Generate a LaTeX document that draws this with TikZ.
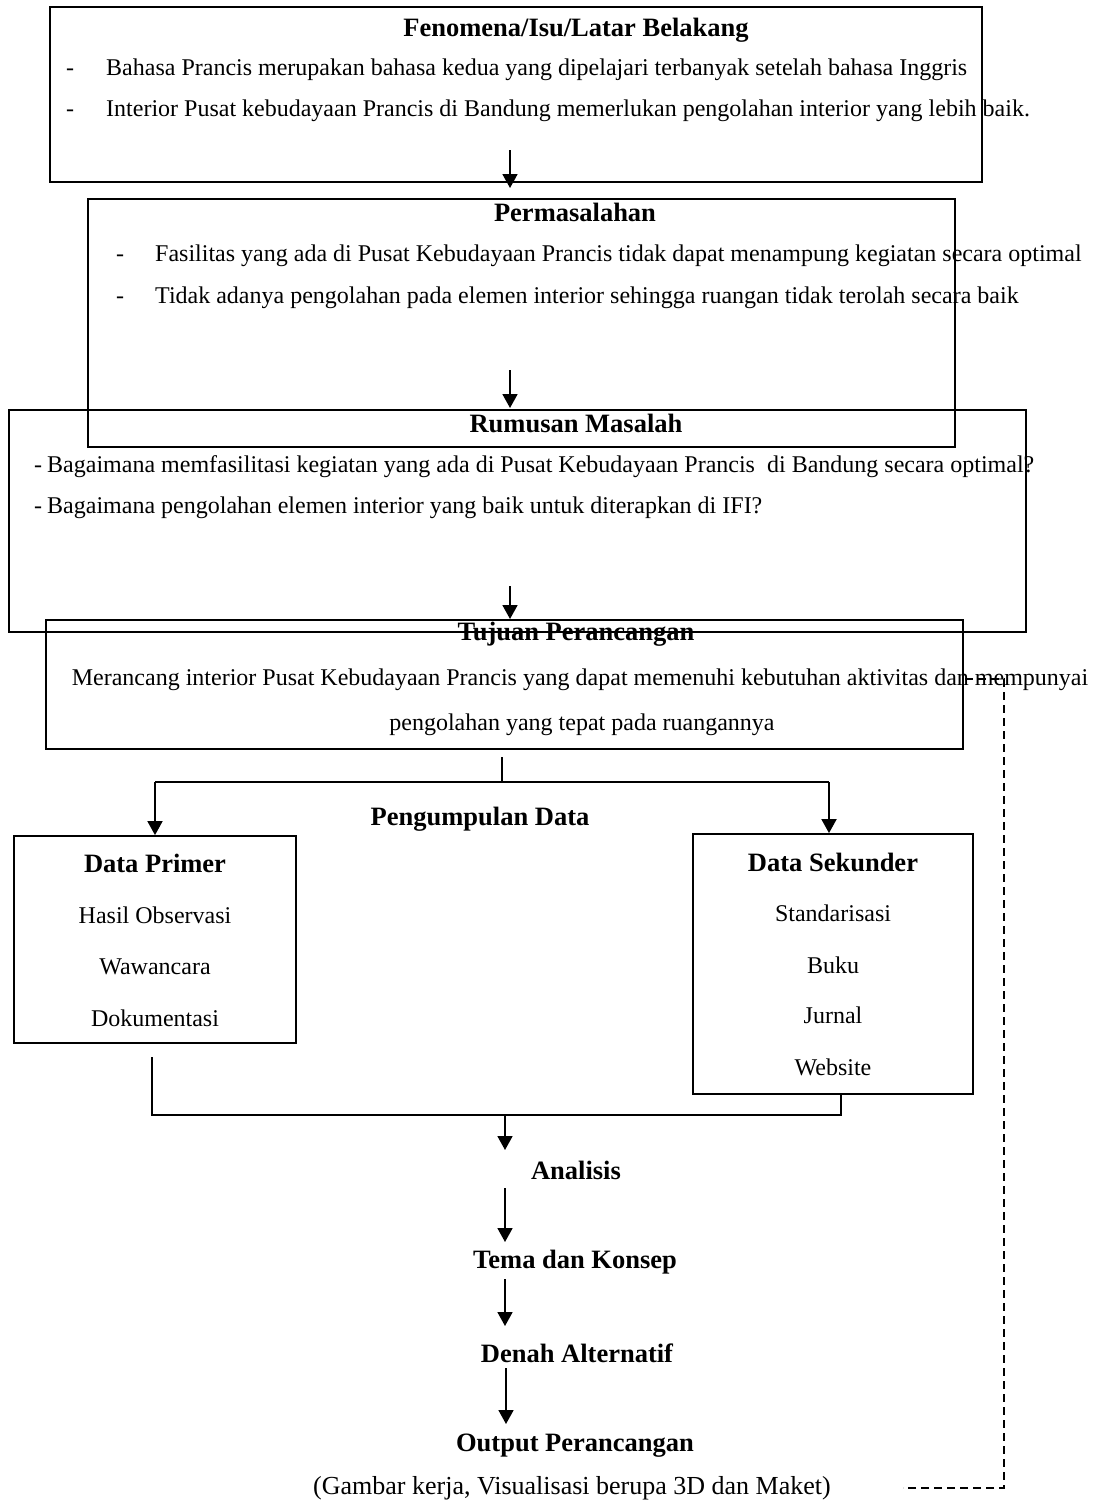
\documentclass[tikz,border=0pt]{standalone}
\usepackage{fontspec}
\setmainfont{Liberation Serif}
\usetikzlibrary{arrows.meta}
\begin{document}
\begin{tikzpicture}[x=1pt,y=-1pt,
  box/.style={draw,line width=1.8pt,inner sep=0pt},
  body/.style={inner sep=0pt,font=\fontsize{24}{28}\selectfont},
  ttl/.style={inner sep=0pt,font=\fontsize{26.5}{30}\selectfont\bfseries},
  arr/.style={line width=1.8pt,-{Triangle[length=14pt,width=15pt]}},
  ln/.style={line width=1.8pt},
  dsh/.style={line width=1.8pt,dash pattern=on 8pt off 5pt}]
\useasboundingbox (0,0) rectangle (1097,1504);

% ---------- Box 1
\node[ttl] (t1) at (576,30) {Fenomena/Isu/Latar Belakang};
\node[body,anchor=west] (l1a) at (106,70) {Bahasa Prancis merupakan bahasa kedua yang dipelajari terbanyak setelah bahasa Inggris};
\node[body,anchor=base] (d1a) at (l1a.base -| 70,0) {-};
\node[body,anchor=west] (l1b) at (106,111) {Interior Pusat kebudayaan Prancis di Bandung memerlukan pengolahan interior yang lebih baik.};
\node[body,anchor=base] (d1b) at (l1b.base -| 70,0) {-};
\node[box,minimum width=932pt,minimum height=175pt] (b1) at (516,94.5) {};

% ---------- Box 2
\node[ttl] (t2) at (575,212) {Permasalahan};
\node[body,anchor=west] (l2a) at (155,256) {Fasilitas yang ada di Pusat Kebudayaan Prancis tidak dapat menampung kegiatan secara optimal};
\node[body,anchor=base] (d2a) at (l2a.base -| 120,0) {-};
\node[body,anchor=west] (l2b) at (155,298) {Tidak adanya pengolahan pada elemen interior sehingga ruangan tidak terolah secara baik};
\node[body,anchor=base] (d2b) at (l2b.base -| 120,0) {-};
\node[box,minimum width=867pt,minimum height=248pt] (b2) at (521.5,323) {};

% ---------- Box 3
\node[ttl] (t3) at (576,423) {Rumusan Masalah};
\node[body,anchor=west] (l3a) at (47,467) {Bagaimana memfasilitasi kegiatan yang ada di Pusat Kebudayaan Prancis \ di Bandung secara optimal?};
\node[body,anchor=base] (d3a) at (l3a.base -| 38,0) {-};
\node[body,anchor=west] (l3b) at (47,508) {Bagaimana pengolahan elemen interior yang baik untuk diterapkan di IFI?};
\node[body,anchor=base] (d3b) at (l3b.base -| 38,0) {-};
\node[box,minimum width=1017pt,minimum height=222pt] (b3) at (517.5,521) {};

% ---------- Box 4
\node[ttl] (t4) at (576,634) {Tujuan Perancangan};
\node[body] (l4a) at (580,680) {Merancang interior Pusat Kebudayaan Prancis yang dapat memenuhi kebutuhan aktivitas dan mempunyai};
\node[body] (l4b) at (582,725) {pengolahan yang tepat pada ruangannya};
\node[box,minimum width=917pt,minimum height=129pt] (b4) at (504.5,684.5) {};

% ---------- Data boxes
\node[ttl] (pd) at (480,819) {Pengumpulan Data};
\node[box,minimum width=282pt,minimum height=207pt] (bp) at (155,939.5) {};
\node[ttl] (tp) at (155,863) {Data Primer};
\node[body] (p1) at (155,915) {Hasil Observasi};
\node[body] (p2) at (155,967) {Wawancara};
\node[body] (p3) at (155,1018) {Dokumentasi};
\node[box,minimum width=280pt,minimum height=260pt] (bs) at (833,964) {};
\node[ttl] (ts) at (833,862) {Data Sekunder};
\node[body] (s1) at (833,913) {Standarisasi};
\node[body] (s2) at (833,965) {Buku};
\node[body] (s3) at (833,1015) {Jurnal};
\node[body] (s4) at (833,1067) {Website};

% ---------- lower steps
\node[ttl] (an) at (576,1170) {Analisis};
\node[ttl] (tk) at (575,1262) {Tema dan Konsep};
\node[ttl] (da) at (577,1353) {Denah Alternatif};
\node[ttl] (op) at (575,1446) {Output Perancangan};
\node[body,font=\fontsize{26}{30}\selectfont] (gk) at (572,1488) {(Gambar kerja, Visualisasi berupa 3D dan Maket)};

% ---------- coordinates for connectors
\coordinate (a1s) at (510,150); \coordinate (a1e) at (510,188);
\coordinate (a2s) at (510,370); \coordinate (a2e) at (510,408);
\coordinate (a3s) at (510,586); \coordinate (a3e) at (510,619);
\coordinate (f0) at (502,757); \coordinate (f1) at (502,782);
\coordinate (fl) at (155,782); \coordinate (fr) at (829,782);
\coordinate (m1) at (152,1057); \coordinate (m2) at (152,1115);
\coordinate (m3) at (841,1115); \coordinate (mj) at (505,1115);
\coordinate (e1e) at (505,1150);
\coordinate (e2s) at (505,1188); \coordinate (e2e) at (505,1242);
\coordinate (e3s) at (505,1279); \coordinate (e3e) at (505,1326);
\coordinate (e4s) at (506,1368); \coordinate (e4e) at (506,1424);
\coordinate (q1) at (965,679); \coordinate (q2) at (1004,679);
\coordinate (q3) at (1004,1488); \coordinate (q4) at (903,1488);

\draw[arr] (a1s) -- (a1e);
\draw[arr] (a2s) -- (a2e);
\draw[arr] (a3s) -- (a3e);
\draw[ln] (f0) -- (f1);
\draw[ln] (fl) -- (fr);
\draw[arr] (fl) -- (bp.north -| fl);
\draw[arr] (fr) -- (bs.north -| fr);
\draw[ln] (m1) -- (m2) -- (m3) -- (bs.south -| m3);
\draw[arr] (mj) -- (e1e);
\draw[arr] (e2s) -- (e2e);
\draw[arr] (e3s) -- (e3e);
\draw[arr] (e4s) -- (e4e);
\draw[dsh] (q1) -- (q2) -- (q3) -- (q4);
\end{tikzpicture}
\end{document}
